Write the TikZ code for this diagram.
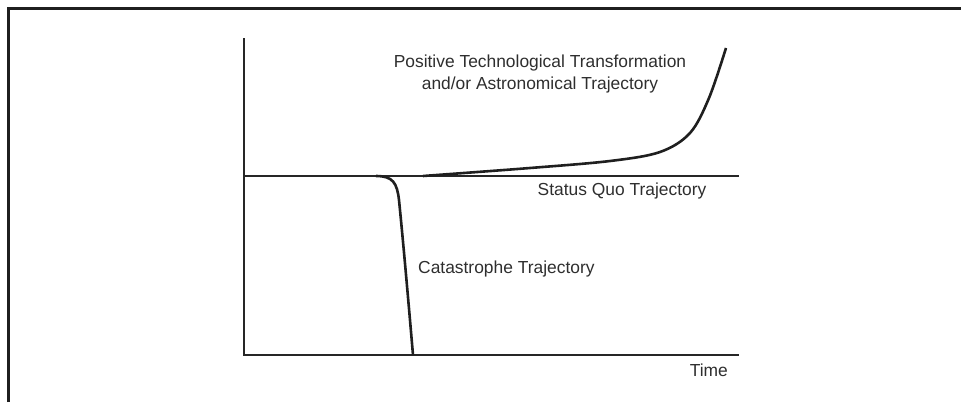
\documentclass[tikz,border=0pt]{standalone}
\usepackage{fontspec}
\setmainfont{Liberation Sans}
\begin{document}
\begin{tikzpicture}[x=1pt,y=-1pt,
  frame/.style={line width=3.5pt, draw=black!88},
  axis/.style={line width=2pt, draw=black!85},
  traj/.style={line width=2.6pt, draw=black!88},
  lbl/.style={font=\fontsize{17.4}{22}\selectfont, text=black!82, inner sep=0pt, align=center}]
\useasboundingbox (0,0) rectangle (961,402);
\coordinate (F0) at (8.5,402);
\coordinate (F1) at (8.5,8.5);
\coordinate (F2) at (961,8.5);
\draw[frame] (F0) -- (F1) -- (F2);
\coordinate (Ytop) at (244,38);
\coordinate (O) at (244,355);
\coordinate (Xend) at (739,355);
\coordinate (S0) at (244,176);
\coordinate (S1) at (739,176);
\draw[axis] (Ytop) -- (O) -- (Xend);
\draw[axis] (S0) -- (S1);
\coordinate (C0) at (376,176);
\coordinate (C1) at (399,200);
\coordinate (C2) at (413,355);
\draw[traj] (C0) .. controls (393,176) and (397,183) .. (C1) .. controls (404,250) and (410,320) .. (C2);
\draw[traj] plot[smooth, tension=0.55] coordinates {(423,176) (530,168) (610,161) (660,152) (690,133) (709,98) (726,48)};
\node[lbl] (pos) at (540,74) {Positive Technological Transformation\\and/or Astronomical Trajectory};
\node[lbl] (sq) at (622,191) {Status Quo Trajectory};
\node[lbl, anchor=west] (cat) at (418,269) {Catastrophe Trajectory};
\node[lbl, anchor=east] (time) at (728,370) {Time};
\end{tikzpicture}
\end{document}
